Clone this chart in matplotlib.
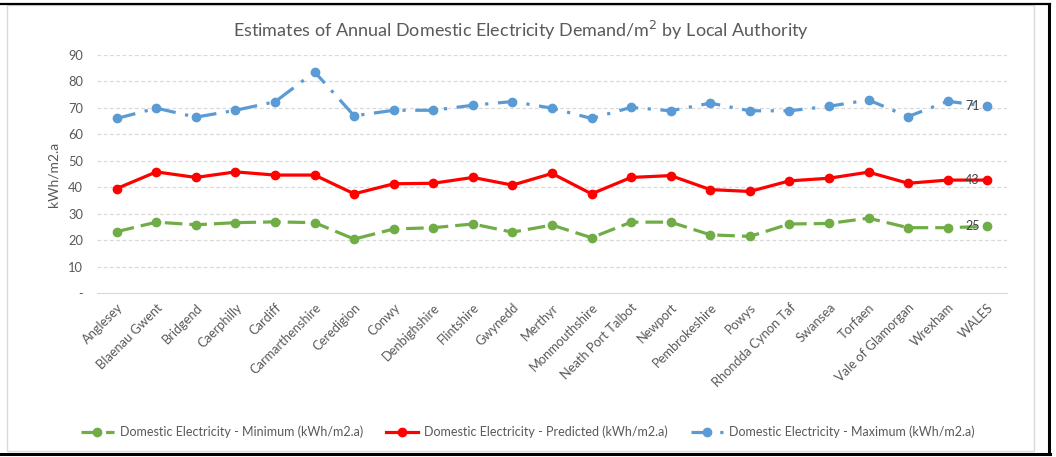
import matplotlib
matplotlib.use('Agg')
import matplotlib.pyplot as plt
from matplotlib.lines import Line2D
from matplotlib.patches import Rectangle

plt.rcParams['font.family'] = ['Lato', 'DejaVu Sans']

authorities = ['Anglesey', 'Blaenau Gwent', 'Bridgend', 'Caerphilly', 'Cardiff',
               'Carmarthenshire', 'Ceredigion', 'Conwy', 'Denbighshire', 'Flintshire',
               'Gwynedd', 'Merthyr', 'Monmouthshire', 'Neath Port Talbot', 'Newport',
               'Pembrokeshire', 'Powys', 'Rhondda Cynon Taf', 'Swansea', 'Torfaen',
               'Vale of Glamorgan', 'Wrexham', 'WALES']

minimum = [23.2, 26.8, 25.8, 26.6, 26.9, 26.6, 20.4, 24.2, 24.7, 26.1, 23.0, 25.7,
           20.9, 26.8, 26.8, 22.0, 21.4, 26.1, 26.3, 28.3, 24.7, 24.7, 25.2]
predicted = [39.5, 45.8, 43.7, 45.8, 44.6, 44.6, 37.5, 41.3, 41.5, 43.7, 40.8, 45.2,
             37.5, 43.7, 44.4, 39.1, 38.4, 42.4, 43.4, 45.7, 41.5, 42.7, 42.7]
maximum = [66.0, 69.9, 66.5, 69.1, 72.3, 83.6, 67.0, 69.1, 69.1, 71.0, 72.4, 69.9,
           66.0, 70.2, 68.9, 71.8, 68.9, 68.9, 70.6, 73.0, 66.7, 72.5, 70.6]

yticks = [0, 10, 20, 30, 40, 50, 60, 70, 80, 90]
ytick_labels = ['-', '10', '20', '30', '40', '50', '60', '70', '80', '90']

green = '#70AD47'
red = '#FF0000'
blue = '#5B9BD5'
grey = '#595959'

fig = plt.figure(figsize=(10.56, 4.57), dpi=100)
ax = fig.add_axes([97 / 1056, 1 - 293 / 457, 910 / 1056, 238 / 457])

x = list(range(len(authorities)))

# chart frame
fig.patches.append(Rectangle((7 / 1056, 1 - 451 / 457), 1027 / 1056, 446 / 457,
                             transform=fig.transFigure, fill=False,
                             edgecolor='#D9D9D9', lw=1))
fig.add_artist(Line2D([0, 1050 / 1056], [1 - 4 / 457] * 2, color='black', lw=1.6,
                      transform=fig.transFigure))
fig.add_artist(Line2D([1049 / 1056] * 2, [1 - 4 / 457, 1 - 454 / 457], color='black',
                      lw=2.2, transform=fig.transFigure))
fig.add_artist(Line2D([0, 1050 / 1056], [1 - 454 / 457] * 2, color='black', lw=2.2,
                      transform=fig.transFigure))

ax.plot(x, minimum, color=green, lw=2.3, dashes=(5.5, 2.2), marker='o', ms=6,
        label='Domestic Electricity - Minimum (kWh/m2.a)')
ax.plot(x, predicted, color=red, lw=2.3, marker='o', ms=6,
        label='Domestic Electricity - Predicted (kWh/m2.a)')
ax.plot(x, maximum, color=blue, lw=2.3, dashes=(6, 3, 1, 3), marker='o', ms=6,
        label='Domestic Electricity - Maximum (kWh/m2.a)')

# data labels on WALES
for series in (minimum, predicted, maximum):
    v = series[-1]
    ax.annotate(str(round(v)), (x[-1], v), xytext=(-15, 0), textcoords='offset pixels',
                ha='center', va='center', fontsize=9, color='#404040', zorder=5)

ax.set_xlim(-0.5, len(authorities) - 0.5)
ax.set_ylim(0, 90)
ax.set_yticks(yticks)
ax.set_yticklabels(ytick_labels)
ax.set_xticks(x)
ax.set_xticklabels(authorities, rotation=45, ha='right', rotation_mode='anchor')
ax.tick_params(axis='both', length=0, labelsize=9.3, colors=grey)
ax.tick_params(axis='y', pad=10)
ax.tick_params(axis='x', pad=6)

for t in yticks[1:]:
    ax.axhline(t, color='#D9D9D9', lw=0.9, ls=(0, (3, 2)), zorder=0)
for side in ('top', 'right', 'left'):
    ax.spines[side].set_visible(False)
ax.spines['bottom'].set_color('#D9D9D9')

ax.set_ylabel('kWh/m2.a', fontsize=10, color=grey, labelpad=6)

fig.text(521 / 1056, 1 - 30 / 457,
         'Estimates of Annual Domestic Electricity Demand/m$^{2}$ by Local Authority',
         ha='center', va='center', fontsize=13, color=grey)

fig.legend(loc='center', bbox_to_anchor=(528 / 1056, 1 - 432 / 457), ncol=3,
           frameon=False, fontsize=9, labelcolor=grey, handlelength=2.6,
           columnspacing=1.8, handletextpad=0.5)

fig.savefig('out.png', dpi=100)
